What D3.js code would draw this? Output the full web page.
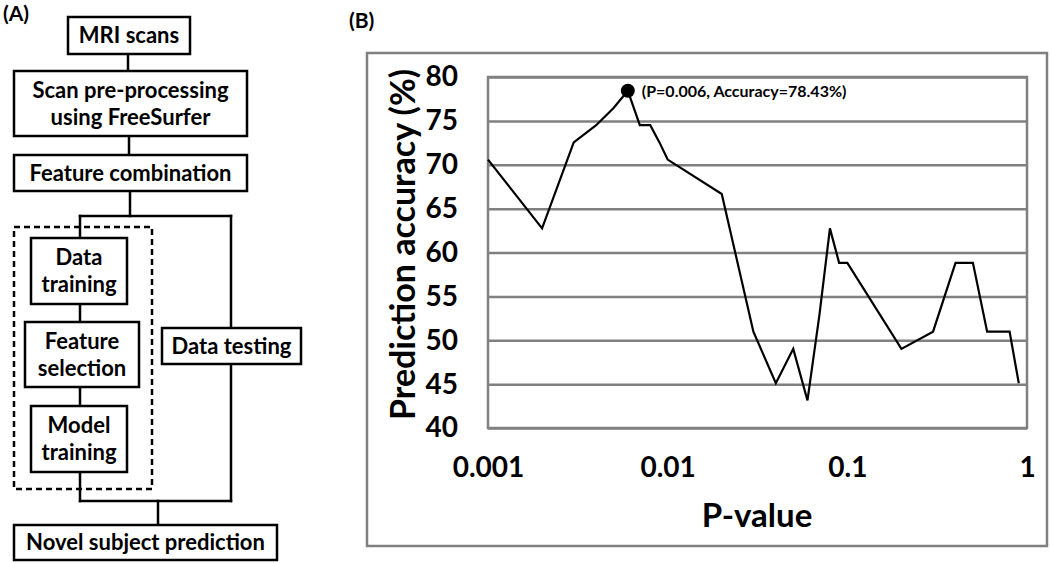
<!DOCTYPE html>
<html>
<head>
<meta charset="utf-8">
<script src="https://cdn.jsdelivr.net/npm/d3@7"></script>
<style>
  body { margin: 0; background: #fff; }
  text { font-family: Lato, "Open Sans", sans-serif; font-weight: bold; fill: #000; }
</style>
</head>
<body>
<div id="chart"></div>
<script>
'use strict';

// panel B data (P-value threshold vs accuracy)
var pValues = [0.001, 0.002, 0.003, 0.004, 0.005, 0.006, 0.007, 0.008, 0.009, 0.01,
               0.02, 0.03, 0.04, 0.05, 0.06, 0.07, 0.08, 0.09, 0.1,
               0.2, 0.3, 0.4, 0.5, 0.6, 0.7, 0.8, 0.9];
var accuracy = [70.59, 62.75, 72.55, 74.51, 76.47, 78.43, 74.51, 74.51, 72.55, 70.59,
                66.67, 50.98, 45.10, 49.02, 43.14, 52.94, 62.75, 58.82, 58.82,
                49.02, 50.98, 58.82, 58.82, 50.98, 50.98, 50.98, 45.10];
var yTicks = [40, 45, 50, 55, 60, 65, 70, 75, 80];
var xTicks = [0.001, 0.01, 0.1, 1];
var xTickLabels = ['0.001', '0.01', '0.1', '1'];
var best = {p: 0.006, acc: 78.43};
var bestLabel = '(P=0.006, Accuracy=78.43%)';

// panel A labels
var flowLabels = [
  ['MRI scans'],
  ['Scan pre-processing', 'using FreeSurfer'],
  ['Feature combination'],
  ['Data', 'training'],
  ['Feature', 'selection'],
  ['Model', 'training'],
  ['Data testing'],
  ['Novel subject prediction']
];

var width = 1050, height = 563;

var svg = d3.select('#chart')
  .append('svg')
    .attr('width', width)
    .attr('height', height);

svg.append('rect')
  .attr('width', width).attr('height', height)
  .attr('fill', '#fff');

// ---------- panel A : flow chart ----------
var boxPos = [
  {x0: 68, x1: 190, y0: 17, y1: 54},
  {x0: 14, x1: 247, y0: 71, y1: 136},
  {x0: 14, x1: 247, y0: 155, y1: 191},
  {x0: 31, x1: 127, y0: 238, y1: 304},
  {x0: 25, x1: 139, y0: 322, y1: 387},
  {x0: 31, x1: 127, y0: 406, y1: 472},
  {x0: 162, x1: 301, y0: 328, y1: 364},
  {x0: 14, x1: 277, y0: 525, y1: 560}
];

var connectors = [
  [[128, 54], [128, 71]],
  [[129, 136], [129, 155]],
  [[130, 191], [130, 216]],
  [[80, 216], [231, 216]],
  [[80, 216], [80, 238]],
  [[231, 216], [231, 328]],
  [[80, 304], [80, 322]],
  [[80, 387], [80, 406]],
  [[80, 472], [80, 501]],
  [[231, 364], [231, 501]],
  [[80, 501], [231, 501]],
  [[158, 501], [158, 525]]
];

var flow = svg.append('g').attr('class', 'flow');

flow.selectAll('line.conn')
    .data(connectors)
  .enter().append('line')
    .attr('class', 'conn')
    .attr('x1', function(d){ return d[0][0]; })
    .attr('y1', function(d){ return d[0][1]; })
    .attr('x2', function(d){ return d[1][0]; })
    .attr('y2', function(d){ return d[1][1]; })
    .attr('stroke', '#000')
    .attr('stroke-width', 2.5)
    .attr('stroke-linecap', 'square');

// dashed training block
flow.append('rect')
  .attr('x', 14).attr('y', 227)
  .attr('width', 138).attr('height', 262)
  .attr('fill', 'none')
  .attr('stroke', '#000')
  .attr('stroke-width', 2.5)
  .attr('stroke-dasharray', '6,4');

var boxes = flow.selectAll('g.box')
    .data(flowLabels)
  .enter().append('g')
    .attr('class', 'box');

boxes.append('rect')
  .attr('x', function(d, i){ return boxPos[i].x0; })
  .attr('y', function(d, i){ return boxPos[i].y0; })
  .attr('width', function(d, i){ return boxPos[i].x1 - boxPos[i].x0; })
  .attr('height', function(d, i){ return boxPos[i].y1 - boxPos[i].y0; })
  .attr('fill', '#fff')
  .attr('stroke', '#000')
  .attr('stroke-width', 2.5);

boxes.each(function(d, i){
  var b = boxPos[i];
  var cx = (b.x0 + b.x1) / 2, cy = (b.y0 + b.y1) / 2;
  var lh = 27;
  d3.select(this).selectAll('text')
      .data(d)
    .enter().append('text')
      .attr('x', cx)
      .attr('y', function(t, j){ return cy + (j - (d.length - 1) / 2) * lh; })
      .attr('dy', '0.36em')
      .attr('text-anchor', 'middle')
      .style('font-size', '22px')
      .text(function(t){ return t; });
});

svg.append('text')
  .attr('x', 3).attr('y', 21)
  .style('font-size', '21px')
  .text('(A)');

// ---------- panel B : accuracy vs P-value ----------
svg.append('text')
  .attr('x', 349).attr('y', 28)
  .style('font-size', '21px')
  .text('(B)');

// outer frame
svg.append('rect')
  .attr('x', 367).attr('y', 53)
  .attr('width', 680).attr('height', 493)
  .attr('fill', 'none')
  .attr('stroke', '#808080')
  .attr('stroke-width', 2.5);

var plot = {left: 488, right: 1027, top: 77, bottom: 428};

var x = d3.scaleLog()
  .domain([0.001, 1])
  .range([plot.left, plot.right]);

var y = d3.scaleLinear()
  .domain([40, 80])
  .range([plot.bottom, plot.top]);

var gridColor = '#808080';

// y axis with grid lines
var yAxis = d3.axisLeft(y)
  .tickValues(yTicks)
  .tickSize(-(plot.right - plot.left))
  .tickPadding(30);

var gy = svg.append('g')
  .attr('transform', 'translate(' + plot.left + ',0)')
  .call(yAxis);
gy.select('.domain').remove();
gy.selectAll('.tick line')
  .attr('stroke', gridColor)
  .attr('stroke-width', 2.5);
gy.selectAll('.tick text')
  .style('font-size', '28px')
  .style('font-family', 'Lato, sans-serif')
  .attr('fill', '#000');

// plot area border
svg.append('rect')
  .attr('x', plot.left).attr('y', plot.top)
  .attr('width', plot.right - plot.left)
  .attr('height', plot.bottom - plot.top)
  .attr('fill', 'none')
  .attr('stroke', gridColor)
  .attr('stroke-width', 2.5);

var xAxis = d3.axisBottom(x)
  .tickValues(xTicks)
  .tickFormat(function(d, i){ return xTickLabels[i]; })
  .tickSize(0)
  .tickPadding(29);

var gx = svg.append('g')
  .attr('transform', 'translate(0,' + plot.bottom + ')')
  .call(xAxis);
gx.select('.domain').remove();
gx.selectAll('.tick text')
  .style('font-size', '28px')
  .style('font-family', 'Lato, sans-serif')
  .attr('fill', '#000');

// axis titles
svg.append('text')
  .attr('transform', 'translate(403,' + ((plot.top + plot.bottom) / 2 - 8) + ') rotate(-90)')
  .attr('text-anchor', 'middle')
  .attr('dy', '0.36em')
  .style('font-size', '34px')
  .text('Prediction accuracy (%)');

svg.append('text')
  .attr('x', 757).attr('y', 515)
  .attr('text-anchor', 'middle')
  .attr('dy', '0.36em')
  .style('font-size', '33px')
  .text('P-value');

// accuracy line
var series = pValues.map(function(p, i){ return {p: p, acc: accuracy[i]}; });

var line = d3.line()
  .x(function(d){ return x(d.p); })
  .y(function(d){ return y(d.acc); });

svg.append('path')
  .datum(series)
  .attr('d', line)
  .attr('fill', 'none')
  .attr('stroke', '#000')
  .attr('stroke-width', 2.2)
  .attr('stroke-linejoin', 'miter');

// best point marker + label
svg.append('circle')
  .attr('cx', x(best.p))
  .attr('cy', y(best.acc))
  .attr('r', 7)
  .attr('fill', '#000');

svg.append('text')
  .attr('x', x(best.p) + 14)
  .attr('y', y(best.acc))
  .attr('dy', '0.36em')
  .style('font-size', '16px')
  .text(bestLabel);
</script>
</body>
</html>
